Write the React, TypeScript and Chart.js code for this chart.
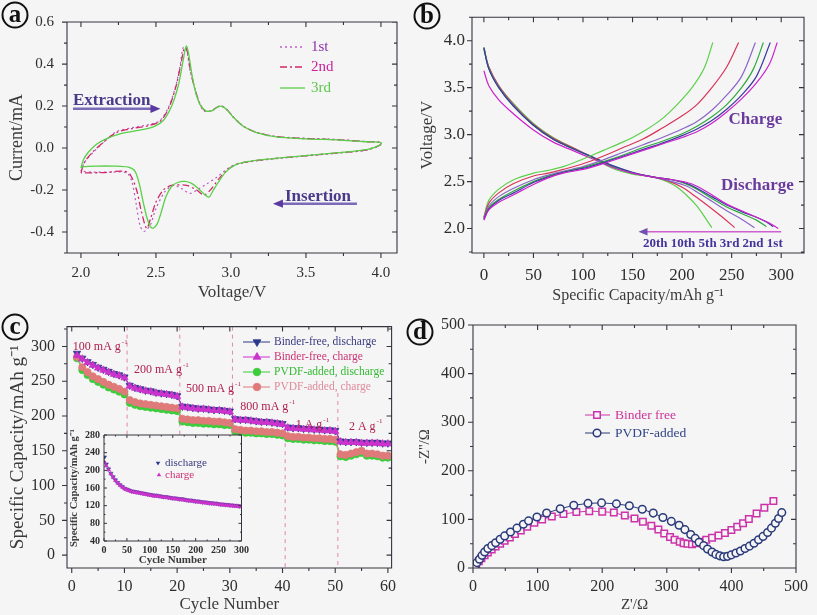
import React, { useEffect, useRef } from "react";
import { Chart, registerables } from "chart.js";

Chart.register(...registerables);

type Pt = [number, number];

const SERIF = "'Liberation Serif', 'Times New Roman', Times, serif";
const BG = "#f5f5f5";
const FRAME = "#34343f";
const TICK_TEXT = "#2e2e2e";
const TITLE_TEXT = "#3a3a3a";

/* ---------------- (a) cyclic voltammetry: [voltage V, current mA] ---------------- */
const cvCycle1: Pt[] = [
  [2.0, -0.11], [2.027, -0.065], [2.082, -0.02], [2.149, 0.026], [2.238, 0.078], [2.349, 0.098],
  [2.46, 0.113], [2.527, 0.131], [2.582, 0.192], [2.627, 0.282], [2.66, 0.388], [2.682, 0.479],
  [2.704, 0.464], [2.727, 0.373], [2.76, 0.282], [2.789, 0.214], [2.82, 0.177], [2.871, 0.178],
  [2.909, 0.196], [2.938, 0.2], [2.971, 0.185], [3.016, 0.148], [3.082, 0.105], [3.171, 0.075],
  [3.304, 0.055], [3.504, 0.046], [3.727, 0.04], [3.904, 0.031], [4.0, 0.027],
  [3.993, 0.013], [3.904, -0.01], [3.682, -0.026], [3.46, -0.04], [3.238, -0.055], [3.104, -0.068],
  [3.016, -0.082], [2.96, -0.108], [2.904, -0.14], [2.838, -0.171], [2.771, -0.201], [2.727, -0.216],
  [2.671, -0.193], [2.616, -0.178], [2.56, -0.208], [2.498, -0.291], [2.462, -0.367], [2.42, -0.397],
  [2.393, -0.367], [2.367, -0.261], [2.338, -0.156], [2.304, -0.118], [2.193, -0.115], [2.082, -0.115],
  [2.0, -0.11],
];
const cvCycle2: Pt[] = [
  [2.0, -0.118], [2.022, -0.07], [2.07, -0.025], [2.14, 0.022], [2.238, 0.074], [2.349, 0.094],
  [2.46, 0.108], [2.532, 0.13], [2.588, 0.195], [2.632, 0.29], [2.665, 0.395], [2.69, 0.478],
  [2.706, 0.47], [2.73, 0.37], [2.762, 0.275], [2.795, 0.21], [2.826, 0.177], [2.871, 0.177],
  [2.909, 0.195], [2.938, 0.2], [2.971, 0.185], [3.016, 0.147], [3.082, 0.104], [3.171, 0.074],
  [3.304, 0.054], [3.504, 0.045], [3.727, 0.039], [3.904, 0.03], [4.0, 0.026],
  [3.993, 0.014], [3.904, -0.009], [3.682, -0.025], [3.46, -0.039], [3.238, -0.054], [3.06, -0.072],
  [2.993, -0.095], [2.927, -0.14], [2.871, -0.193], [2.82, -0.224], [2.771, -0.2], [2.704, -0.178],
  [2.604, -0.178], [2.549, -0.2], [2.498, -0.261], [2.464, -0.337], [2.438, -0.382], [2.404, -0.306],
  [2.371, -0.2], [2.327, -0.125], [2.282, -0.11], [2.15, -0.117], [2.0, -0.118],
];
const cvCycle3: Pt[] = [
  [2.0, -0.095], [2.016, -0.057], [2.049, -0.02], [2.104, 0.018], [2.171, 0.045], [2.26, 0.068],
  [2.371, 0.083], [2.482, 0.101], [2.549, 0.131], [2.604, 0.199], [2.649, 0.298], [2.678, 0.404],
  [2.696, 0.472], [2.704, 0.486], [2.718, 0.449], [2.738, 0.358], [2.764, 0.267], [2.798, 0.202],
  [2.833, 0.177], [2.871, 0.177], [2.909, 0.195], [2.938, 0.199], [2.971, 0.184], [3.016, 0.147],
  [3.082, 0.104], [3.171, 0.074], [3.304, 0.053], [3.504, 0.044], [3.727, 0.038], [3.904, 0.03],
  [4.0, 0.026],
  [3.993, 0.014], [3.904, -0.008], [3.682, -0.024], [3.46, -0.038], [3.238, -0.053], [3.104, -0.065],
  [3.016, -0.085], [2.96, -0.118], [2.916, -0.163], [2.882, -0.201], [2.853, -0.234], [2.82, -0.219],
  [2.782, -0.193], [2.738, -0.168], [2.693, -0.159], [2.649, -0.163], [2.604, -0.183], [2.567, -0.231],
  [2.538, -0.299], [2.509, -0.36], [2.482, -0.382], [2.464, -0.376], [2.442, -0.337], [2.416, -0.261],
  [2.389, -0.171], [2.36, -0.11], [2.316, -0.091], [2.216, -0.086], [2.104, -0.086], [2.016, -0.089],
  [2.0, -0.095],
];
const cvLegendLabels = ["1st", "2nd", "3rd"];

/* ---------------- (b) charge / discharge: [capacity mAh/g, voltage V] ---------------- */
const charge1st: Pt[] = [[0, 2.09], [5, 2.2], [15, 2.28], [30, 2.36], [50, 2.47], [65, 2.54], [80, 2.59], [100, 2.63], [120, 2.69], [140, 2.76], [160, 2.83], [180, 2.9], [200, 2.97], [215, 3.03], [230, 3.12], [245, 3.24], [260, 3.38], [275, 3.55], [288, 3.75], [296, 3.98]];
const charge2nd: Pt[] = [[0, 2.1], [5, 2.21], [15, 2.3], [30, 2.38], [50, 2.49], [65, 2.55], [80, 2.6], [100, 2.64], [120, 2.7], [140, 2.77], [160, 2.84], [180, 2.91], [200, 2.99], [215, 3.06], [230, 3.15], [245, 3.27], [260, 3.42], [275, 3.62], [289, 3.98]];
const charge3rd: Pt[] = [[0, 2.1], [5, 2.22], [15, 2.31], [30, 2.4], [50, 2.5], [65, 2.56], [80, 2.6], [100, 2.65], [120, 2.71], [140, 2.78], [160, 2.86], [180, 2.93], [200, 3.01], [215, 3.09], [230, 3.19], [245, 3.32], [260, 3.5], [272, 3.7], [282, 3.98]];
const charge5th: Pt[] = [[0, 2.11], [5, 2.24], [15, 2.34], [30, 2.43], [50, 2.52], [65, 2.57], [80, 2.61], [100, 2.66], [120, 2.73], [140, 2.81], [160, 2.89], [180, 2.97], [200, 3.06], [215, 3.14], [230, 3.26], [245, 3.42], [260, 3.62], [274, 3.98]];
const charge10th: Pt[] = [[0, 2.12], [5, 2.27], [15, 2.38], [30, 2.48], [50, 2.56], [65, 2.59], [80, 2.63], [100, 2.69], [120, 2.77], [140, 2.86], [160, 2.95], [180, 3.07], [200, 3.2], [215, 3.32], [230, 3.5], [245, 3.72], [257, 3.98]];
const charge20th: Pt[] = [[0, 2.12], [5, 2.3], [15, 2.42], [30, 2.52], [50, 2.59], [65, 2.62], [80, 2.66], [100, 2.74], [120, 2.83], [140, 2.92], [150, 2.97], [165, 3.06], [180, 3.17], [195, 3.32], [210, 3.5], [222, 3.7], [231, 3.98]];
const discharge1st: Pt[] = [[0, 3.68], [5, 3.52], [15, 3.37], [30, 3.22], [50, 3.05], [70, 2.92], [90, 2.83], [110, 2.74], [130, 2.65], [150, 2.59], [170, 2.55], [190, 2.52], [205, 2.49], [215, 2.45], [230, 2.36], [245, 2.26], [260, 2.19], [275, 2.12], [288, 2.06], [297, 2.0]];
const discharge2nd: Pt[] = [[0, 3.92], [5, 3.7], [15, 3.5], [30, 3.3], [50, 3.1], [70, 2.95], [90, 2.85], [110, 2.76], [130, 2.67], [150, 2.6], [170, 2.55], [190, 2.52], [205, 2.48], [215, 2.43], [230, 2.34], [245, 2.25], [260, 2.18], [275, 2.12], [285, 2.07], [292, 2.02]];
const discharge3rd: Pt[] = [[0, 3.93], [5, 3.7], [15, 3.5], [30, 3.3], [50, 3.1], [70, 2.95], [90, 2.85], [110, 2.76], [130, 2.66], [150, 2.59], [170, 2.55], [190, 2.52], [205, 2.47], [215, 2.42], [230, 2.32], [245, 2.23], [260, 2.16], [275, 2.09], [285, 2.02]];
const discharge5th: Pt[] = [[0, 3.93], [5, 3.71], [15, 3.51], [30, 3.31], [50, 3.1], [70, 2.95], [90, 2.85], [110, 2.76], [130, 2.66], [150, 2.59], [170, 2.55], [190, 2.5], [205, 2.45], [215, 2.39], [230, 2.29], [245, 2.19], [260, 2.1], [273, 2.01]];
const discharge10th: Pt[] = [[0, 3.92], [5, 3.72], [15, 3.52], [30, 3.32], [50, 3.11], [70, 2.96], [90, 2.86], [110, 2.76], [130, 2.66], [150, 2.59], [170, 2.55], [185, 2.51], [200, 2.44], [215, 2.33], [230, 2.21], [242, 2.11], [253, 2.01]];
const discharge20th: Pt[] = [[0, 3.9], [5, 3.72], [15, 3.52], [30, 3.33], [50, 3.12], [70, 2.97], [90, 2.86], [110, 2.75], [130, 2.64], [150, 2.58], [170, 2.55], [185, 2.5], [195, 2.44], [205, 2.35], [215, 2.24], [223, 2.12], [230, 2.01]];
const gcdCycleText = "20th 10th 5th 3rd 2nd 1st";

/* ---------------- (c) rate capability ---------------- */
const cycleNumbers = [
  1, 2, 3, 4, 5, 6, 7, 8, 9, 10, 11, 12, 13, 14, 15, 16, 17, 18, 19, 20,
  21, 22, 23, 24, 25, 26, 27, 28, 29, 30, 31, 32, 33, 34, 35, 36, 37, 38, 39, 40,
  41, 42, 43, 44, 45, 46, 47, 48, 49, 50, 51, 52, 53, 54, 55, 56, 57, 58, 59, 60,
];
const bfDischarge = [
  290, 283, 278, 274, 270, 267, 264, 261, 259, 256,
  244, 241, 239, 237, 236, 234, 233, 232, 231, 229,
  214, 213, 212, 211, 211, 210, 209, 209, 208, 207,
  196, 195, 195, 194, 193, 192, 192, 191, 190, 189,
  184, 183, 183, 182, 182, 181, 181, 180, 180, 179,
  164, 163, 163, 163, 162, 162, 162, 162, 161, 161,
];
const bfCharge = [
  287, 282, 277, 273, 269, 266, 263, 260, 258, 255,
  243, 240, 238, 236, 235, 233, 232, 231, 230, 228,
  213, 212, 211, 210, 210, 209, 208, 208, 207, 206,
  195, 194, 194, 193, 192, 191, 191, 190, 189, 188,
  183, 182, 182, 181, 181, 180, 180, 179, 179, 178,
  163, 162, 162, 162, 161, 161, 161, 161, 160, 160,
];
const pvdfDischarge = [
  283, 266, 259, 253, 249, 245, 241, 238, 235, 231,
  219, 216, 214, 213, 212, 211, 210, 209, 208, 207,
  192, 191, 190, 190, 189, 189, 188, 188, 187, 187,
  178, 177, 176, 176, 175, 175, 174, 174, 173, 172,
  168, 167, 167, 166, 166, 165, 165, 164, 164, 163,
  142, 141, 143, 145, 147, 143, 143, 142, 140, 140,
];
const pvdfCharge = [
  285, 270, 263, 257, 253, 249, 245, 242, 239, 235,
  223, 220, 218, 217, 216, 215, 214, 213, 212, 211,
  196, 195, 194, 194, 193, 193, 192, 192, 191, 190,
  181, 180, 179, 179, 178, 178, 177, 177, 176, 175,
  171, 170, 170, 169, 169, 168, 168, 167, 167, 166,
  145, 144, 146, 148, 150, 146, 146, 145, 143, 143,
];
const rateLegendLabels = ["Binder-free, discharge", "Binder-free, charge", "PVDF-added, discharge", "PVDF-added, charge"];
const rateLabels = ["100 mA g", "200 mA g", "500 mA g", "800 mA g", "1 A g", "2 A g"];
const rateBoundaries = [10.5, 20.5, 30.5, 40.5, 50.5];

/* inset: long cycling */
const insetCycles = [
  1, 5, 10, 15, 20, 25, 30, 35, 40, 45, 50, 55, 60, 65, 70, 75, 80, 85, 90, 95, 100,
  105, 110, 115, 120, 125, 130, 135, 140, 145, 150, 155, 160, 165, 170, 175, 180, 185, 190, 195, 200,
  205, 210, 215, 220, 225, 230, 235, 240, 245, 250, 255, 260, 265, 270, 275, 280, 285, 290, 295, 300,
];
const insetDischarge = [
  230, 214, 203, 193, 185, 178, 172, 167, 163, 159, 157, 155, 153, 152, 151, 150, 149, 148, 147, 146, 145,
  144, 143, 143, 142, 141, 140, 140, 139, 138, 137, 137, 136, 135, 135, 134, 133, 132, 132, 131, 130,
  130, 129, 128, 128, 127, 126, 126, 125, 125, 124, 123, 123, 122, 122, 121, 121, 120, 120, 119, 119,
];
const insetCharge = [
  218, 210, 201, 192, 184, 177, 171, 166, 162, 158, 156, 154, 152, 151, 150, 149, 148, 147, 146, 145, 144,
  143, 142, 142, 141, 140, 139, 139, 138, 137, 136, 136, 135, 134, 134, 133, 132, 131, 131, 130, 129,
  129, 128, 127, 127, 126, 125, 125, 124, 124, 123, 122, 122, 121, 121, 120, 120, 119, 119, 118, 118,
];
const insetLegendLabels = ["discharge", "charge"];

/* ---------------- (d) Nyquist: [Z' ohm, -Z'' ohm] ---------------- */
const eisBinderFree: Pt[] = [
  [2, 3], [5, 8], [9, 14], [13, 20], [18, 26], [23, 32], [29, 38], [35, 44], [42, 50], [49, 56],
  [57, 63], [65, 70], [74, 77], [84, 85], [95, 93], [107, 100], [122, 106], [140, 111], [160, 115],
  [180, 117], [200, 116], [218, 114], [235, 108], [250, 102], [263, 95], [276, 87], [287, 79],
  [296, 71], [305, 64], [312, 58], [320, 54], [326, 51], [332, 50], [339, 49], [345, 51], [352, 54],
  [361, 58], [370, 62], [380, 67], [390, 72], [400, 78], [409, 85], [418, 92], [427, 101], [439, 112],
  [451, 124], [465, 138],
];
const eisPvdf: Pt[] = [
  [3, 4], [6, 11], [10, 18], [14, 26], [18, 33], [23, 40], [29, 46], [35, 52], [42, 59], [49, 66],
  [58, 74], [68, 82], [78, 90], [86, 97], [99, 105], [114, 113], [135, 122], [156, 129], [178, 133],
  [199, 134], [222, 132], [242, 128], [262, 121], [279, 113], [294, 104], [307, 96], [319, 88],
  [328, 79], [337, 69], [344, 61], [350, 53], [357, 46], [363, 39], [370, 33], [376, 28], [382, 25],
  [388, 23], [394, 24], [400, 27], [407, 31], [414, 35], [421, 40], [428, 45], [435, 51], [442, 58],
  [449, 65], [456, 73], [462, 82], [468, 92], [473, 102], [478, 114],
];
const eisLegendLabels = ["Binder free", "PVDF-added"];

/* ---------------- helpers ---------------- */
const toXY = (pairs: Pt[]) => pairs.map(([x, y]) => ({ x, y }));
const zipXY = (xs: number[], ys: number[]) => xs.map((x, i) => ({ x, y: ys[i] }));

const framePlugin = {
  id: "frame",
  afterDatasetsDraw(chart: any, _args: any, opts: any) {
    if (!opts || !opts.show) return;
    const { ctx, chartArea } = chart;
    const { left, right, top, bottom } = chartArea;
    ctx.save();
    ctx.strokeStyle = opts.color || FRAME;
    ctx.lineWidth = opts.lineWidth || 1.1;
    ctx.beginPath();
    const mk = (scale: any, isX: boolean) => {
      const vals: number[] = scale.ticks.map((t: any) => t.value);
      const minors: number[] = [];
      for (let i = 0; i < vals.length - 1; i++) minors.push((vals[i] + vals[i + 1]) / 2);
      if (vals.length > 1) {
        const st = vals[1] - vals[0];
        minors.push(vals[0] - st / 2, vals[vals.length - 1] + st / 2);
      }
      const draw = (v: number, len: number) => {
        const p = scale.getPixelForValue(v);
        if (isX) {
          if (p < left - 0.5 || p > right + 0.5) return;
          ctx.moveTo(p, bottom); ctx.lineTo(p, bottom + (opts.bottom === "out" ? len : -len));
          ctx.moveTo(p, top); ctx.lineTo(p, top + (opts.top === "out" ? -len : len));
        } else {
          if (p < top - 0.5 || p > bottom + 0.5) return;
          ctx.moveTo(left, p); ctx.lineTo(left + (opts.left === "out" ? -len : len), p);
          ctx.moveTo(right, p); ctx.lineTo(right + (opts.right === "out" ? len : -len), p);
        }
      };
      vals.forEach((v) => draw(v, opts.major));
      minors.forEach((v) => draw(v, opts.minor));
    };
    mk(chart.scales.x, true);
    mk(chart.scales.y, false);
    ctx.rect(left, top, right - left, bottom - top);
    ctx.stroke();
    ctx.restore();
  },
};
Chart.register(framePlugin);

function linAxis(o: any) {
  return {
    type: "linear",
    min: o.min,
    max: o.max,
    afterFit: (s: any) => {
      if (o.isX) s.height = o.fixed;
      else s.width = o.fixed;
    },
    grid: { display: false, drawTicks: false },
    border: { display: false },
    ticks: {
      stepSize: o.step,
      includeBounds: false,
      autoSkip: false,
      maxRotation: 0,
      padding: o.pad,
      color: TICK_TEXT,
      font: { family: SERIF, size: o.size, weight: o.bold ? "bold" : "normal" },
      callback: o.fmt || ((v: number) => String(Math.round(v))),
    },
    title: {
      display: true,
      text: o.title,
      color: o.titleColor || TITLE_TEXT,
      font: { family: SERIF, size: o.titleSize, weight: o.bold ? "bold" : "normal" },
      padding: o.titlePad,
    },
  };
}

const fmt1 = (v: number) => (Math.abs(v) < 1e-9 ? 0 : v).toFixed(1);

function baseOptions(padding: any, x: any, y: any, frame: any, extra: any = {}) {
  return {
    responsive: false,
    animation: false,
    devicePixelRatio: 1,
    events: [],
    layout: { padding },
    scales: { x, y },
    plugins: {
      legend: { display: false },
      tooltip: { enabled: false },
      title: { display: false },
      frame: { show: true, ...frame },
      ...extra,
    },
  };
}

function drawMarker(ctx: any, style: string, x: number, y: number, r: number, fill: string | null, stroke: string | null, lw = 1) {
  ctx.save();
  ctx.beginPath();
  if (style === "circle") ctx.arc(x, y, r, 0, Math.PI * 2);
  else if (style === "rect") {
    const s = r * Math.SQRT1_2;
    ctx.rect(x - s, y - s, 2 * s, 2 * s);
  } else if (style === "triUp" || style === "triDown") {
    const d = style === "triUp" ? 1 : -1;
    ctx.moveTo(x, y - d * r);
    ctx.lineTo(x + r * 0.866, y + d * r * 0.5);
    ctx.lineTo(x - r * 0.866, y + d * r * 0.5);
    ctx.closePath();
  }
  if (fill) { ctx.fillStyle = fill; ctx.fill(); }
  if (stroke) { ctx.strokeStyle = stroke; ctx.lineWidth = lw; ctx.stroke(); }
  ctx.restore();
}

function supText(ctx: any, x: number, y: number, main: string, sup: string, size: number, color: string, weight = "normal", align = "left") {
  ctx.save();
  const f1 = `${weight} ${size}px ${SERIF}`;
  const f2 = `${weight} ${Math.round(size * 0.62)}px ${SERIF}`;
  ctx.font = f1;
  const w1 = ctx.measureText(main).width;
  ctx.font = f2;
  const w2 = ctx.measureText(sup).width;
  let sx = x;
  if (align === "center") sx = x - (w1 + w2 + 1) / 2;
  ctx.fillStyle = color;
  ctx.textAlign = "left";
  ctx.textBaseline = "middle";
  ctx.font = f1;
  ctx.fillText(main, sx, y);
  ctx.font = f2;
  ctx.fillText(sup, sx + w1 + 1, y - size * 0.42);
  ctx.restore();
}

function text(ctx: any, s: string, x: number, y: number, size: number, color: string, weight = "normal", align = "left") {
  ctx.save();
  ctx.font = `${weight} ${size}px ${SERIF}`;
  ctx.fillStyle = color;
  ctx.textAlign = align;
  ctx.textBaseline = "middle";
  ctx.fillText(s, x, y);
  ctx.restore();
}

function arrow(ctx: any, x1: number, y: number, x2: number, lineColor: string, headColor: string, lw: number, head: number) {
  const dir = Math.sign(x2 - x1);
  ctx.save();
  ctx.strokeStyle = lineColor;
  ctx.lineWidth = lw;
  ctx.beginPath();
  ctx.moveTo(x1, y);
  ctx.lineTo(x2 - dir * head * 0.7, y);
  ctx.stroke();
  ctx.fillStyle = headColor;
  ctx.beginPath();
  ctx.moveTo(x2, y);
  ctx.lineTo(x2 - dir * head, y - head * 0.42);
  ctx.lineTo(x2 - dir * head, y + head * 0.42);
  ctx.closePath();
  ctx.fill();
  ctx.restore();
}

function circledLetter(ctx: any, x: number, y: number, letter: string) {
  ctx.save();
  ctx.beginPath();
  ctx.arc(x, y, 12.5, 0, Math.PI * 2);
  ctx.lineWidth = 2;
  ctx.strokeStyle = "#111";
  ctx.stroke();
  ctx.font = `bold 25px ${SERIF}`;
  ctx.fillStyle = "#111";
  ctx.textAlign = "center";
  ctx.textBaseline = "middle";
  ctx.fillText(letter, x, y + 1);
  ctx.restore();
}

const line = (data: any[], color: string, extra: any = {}) => ({
  data,
  showLine: true,
  borderColor: color,
  backgroundColor: color,
  borderWidth: 1.3,
  pointRadius: 0,
  tension: 0.3,
  ...extra,
});

/* ---------------- panel configs ---------------- */
const CV_COLORS = ["#c060c8", "#d02868", "#58d048"];
const CV_TEXT = ["#8a34a8", "#c8229a", "#5cc84a"];
const CV_DASH = [[2, 3], [7, 3, 2, 3], []];

function makeA() {
  const cycles = [cvCycle1, cvCycle2, cvCycle3];
  return {
    type: "scatter",
    data: {
      datasets: cycles.map((c, i) =>
        line(toXY(c), CV_COLORS[i], { borderDash: CV_DASH[i], order: 3 - i })
      ),
    },
    options: baseOptions(
      { left: 0, top: 10, right: 8, bottom: 0 },
      linAxis({ isX: true, min: 1.907, max: 4.107, step: 0.5, fixed: 52, pad: 11, size: 15, fmt: fmt1, title: "Voltage/V", titleSize: 17, titlePad: { top: 0, bottom: 2 } }),
      linAxis({ isX: false, min: -0.5, max: 0.6005, step: 0.2, fixed: 67, pad: 13, size: 15, fmt: fmt1, title: "Current/mA", titleSize: 18, titlePad: { top: 6, bottom: 0 } }),
      { left: "out", bottom: "out", top: "in", right: "in", major: 5, minor: 3 }
    ),
    plugins: [
      {
        id: "annA",
        afterDraw(chart: any) {
          const { ctx } = chart;
          const X = chart.scales.x, Y = chart.scales.y;
          circledLetter(ctx, 15, 15, "a");
          const rows = [47, 67, 88];
          rows.forEach((ry, i) => {
            ctx.save();
            ctx.strokeStyle = CV_COLORS[i];
            ctx.lineWidth = 1.3;
            ctx.setLineDash(CV_DASH[i]);
            ctx.beginPath();
            ctx.moveTo(280, ry);
            ctx.lineTo(305, ry);
            ctx.stroke();
            ctx.restore();
            text(ctx, cvLegendLabels[i], 311, ry, 15, CV_TEXT[i]);
          });
          text(ctx, "Extraction", X.getPixelForValue(1.947), Y.getPixelForValue(0.228), 17, "#4a3a8c", "bold");
          arrow(ctx, X.getPixelForValue(1.947), Y.getPixelForValue(0.187), X.getPixelForValue(2.53), "#7a6ab8", "#5a3aa0", 2.5, 10);
          text(ctx, "Insertion", X.getPixelForValue(3.36), Y.getPixelForValue(-0.229), 17, "#4a3a8c", "bold");
          arrow(ctx, X.getPixelForValue(3.84), Y.getPixelForValue(-0.265), X.getPixelForValue(3.28), "#7a6ab8", "#5a3aa0", 2.5, 10);
        },
      },
    ],
  };
}

const GCD_COLORS = ["#cc22cc", "#3a3aa0", "#2eaa3a", "#8a66c8", "#d8345a", "#5cd04a"];

function makeB() {
  const charges = [charge1st, charge2nd, charge3rd, charge5th, charge10th, charge20th];
  const discharges = [discharge1st, discharge2nd, discharge3rd, discharge5th, discharge10th, discharge20th];
  const ds: any[] = [];
  charges.forEach((c, i) => ds.push(line(toXY(c), GCD_COLORS[i], { borderWidth: 1.2, tension: 0.35 })));
  discharges.forEach((c, i) => ds.push(line(toXY(c), GCD_COLORS[i], { borderWidth: 1.2, tension: 0.35 })));
  return {
    type: "scatter",
    data: { datasets: ds },
    options: baseOptions(
      { left: 0, top: 10, right: 13, bottom: 0 },
      linAxis({ isX: true, min: -12, max: 323, step: 50, fixed: 52, pad: 12, size: 17, title: "Specific Capacity/mAh g\u207B\u00B9", titleSize: 16, titlePad: { top: 0, bottom: 0 } }),
      linAxis({ isX: false, min: 1.74, max: 4.25, step: 0.5, fixed: 67, pad: 7, size: 17, fmt: fmt1, title: "Voltage/V", titleSize: 17, titlePad: { top: 12, bottom: 0 } }),
      { left: "out", bottom: "out", top: "in", right: "in", major: 5, minor: 3 }
    ),
    plugins: [
      {
        id: "annB",
        afterDraw(chart: any) {
          const { ctx } = chart;
          const X = chart.scales.x, Y = chart.scales.y;
          circledLetter(ctx, 22, 16, "b");
          text(ctx, "Charge", X.getPixelForValue(274), Y.getPixelForValue(3.165), 17, "#6a3a9c", "bold", "center");
          text(ctx, "Discharge", X.getPixelForValue(276), Y.getPixelForValue(2.46), 17, "#6a3a9c", "bold", "center");
          arrow(ctx, X.getPixelForValue(300), Y.getPixelForValue(1.966), X.getPixelForValue(156), "#d060d0", "#7050b0", 1.5, 9);
          text(ctx, gcdCycleText, X.getPixelForValue(231), Y.getPixelForValue(1.835), 13, "#44339a", "bold", "center");
        },
      },
    ],
  };
}

const RATE_COLORS = ["#2a3a8a", "#cc33cc", "#3ccc3c", "#e07a7a"];
const RATE_TEXT = ["#3a3a80", "#cc3377", "#33bb33", "#e08a9a"];
const RATE_MARK = ["triDown", "triUp", "circle", "circle"];
const RATE_LABEL_POS: Pt[] = [[0.2, 299], [11.8, 266], [21.7, 239], [32.0, 213], [42.5, 187], [52.6, 185]];
const RATE_LINE_RANGE: Pt[] = [[328.5, 172], [328.5, 172], [328.5, 172], [184, -18.5], [233, -18.5]];

function makeC() {
  const series = [bfCharge, bfDischarge, pvdfCharge, pvdfDischarge];
  const idx = [1, 0, 3, 2];
  const ds = series.map((s, k) => {
    const i = idx[k];
    return {
      data: zipXY(cycleNumbers, s),
      showLine: true,
      borderColor: RATE_COLORS[i],
      backgroundColor: RATE_COLORS[i],
      borderWidth: 1,
      pointRadius: i < 2 ? 4.2 : 3.6,
      pointStyle: i < 2 ? "triangle" : "circle",
      pointRotation: i === 0 ? 180 : 0,
      pointBorderWidth: 0.8,
      pointBorderColor: RATE_COLORS[i],
      pointBackgroundColor: RATE_COLORS[i],
      order: k,
    };
  });
  return {
    type: "scatter",
    data: { datasets: ds },
    options: baseOptions(
      { left: 0, top: 21, right: 8, bottom: 0 },
      linAxis({ isX: true, min: -0.9, max: 60.7, step: 10, fixed: 47, pad: 9, size: 16, title: "Cycle Number", titleSize: 17, titlePad: { top: 0, bottom: 0 } }),
      linAxis({ isX: false, min: -18.5, max: 328.5, step: 50, fixed: 67, pad: 12, size: 16, title: "Specific Capacity/mAh g\u207B\u00B9", titleSize: 19, titlePad: { top: 7, bottom: 0 } }),
      { left: "out", bottom: "out", top: "in", right: "in", major: 5, minor: 3 }
    ),
    plugins: [
      {
        id: "annCbefore",
        beforeDatasetsDraw(chart: any) {
          const { ctx } = chart;
          const X = chart.scales.x, Y = chart.scales.y;
          ctx.save();
          ctx.strokeStyle = "#e088b0";
          ctx.lineWidth = 1;
          ctx.setLineDash([4, 4]);
          rateBoundaries.forEach((c, i) => {
            const px = X.getPixelForValue(c);
            ctx.beginPath();
            ctx.moveTo(px, Y.getPixelForValue(RATE_LINE_RANGE[i][0]));
            ctx.lineTo(px, Y.getPixelForValue(RATE_LINE_RANGE[i][1]));
            ctx.stroke();
          });
          ctx.restore();
        },
        afterDraw(chart: any) {
          const { ctx } = chart;
          const X = chart.scales.x, Y = chart.scales.y;
          circledLetter(ctx, 15, 22, "c");
          rateLabels.forEach((s, i) => {
            supText(ctx, X.getPixelForValue(RATE_LABEL_POS[i][0]), Y.getPixelForValue(RATE_LABEL_POS[i][1]), s, "-1", 12, "#b02050");
          });
          const rows = [37, 52, 67, 82];
          rows.forEach((ry, i) => {
            ctx.save();
            ctx.strokeStyle = RATE_COLORS[i];
            ctx.lineWidth = 1;
            ctx.beginPath();
            ctx.moveTo(243, ry);
            ctx.lineTo(270, ry);
            ctx.stroke();
            ctx.restore();
            drawMarker(ctx, RATE_MARK[i], 257, ry, i < 2 ? 4.5 : 3.8, RATE_COLORS[i], RATE_COLORS[i], 0.8);
            text(ctx, rateLegendLabels[i], 274, ry, 11.5, RATE_TEXT[i]);
          });
        },
      },
    ],
  };
}

function makeInset() {
  return {
    type: "scatter",
    data: {
      datasets: [
        { data: zipXY(insetCycles, insetCharge), pointStyle: "triangle", pointRadius: 2.4, pointBackgroundColor: "#cc33cc", pointBorderColor: "#cc33cc", pointBorderWidth: 0.5, showLine: false, order: 0 },
        { data: zipXY(insetCycles, insetDischarge), pointStyle: "triangle", pointRotation: 180, pointRadius: 2.4, pointBackgroundColor: "#2a3a8a", pointBorderColor: "#2a3a8a", pointBorderWidth: 0.5, showLine: false, order: 1 },
      ],
    },
    options: baseOptions(
      { left: 0, top: 10, right: 5, bottom: 0 },
      linAxis({ isX: true, min: 0, max: 300, step: 50, fixed: 26, pad: 3, size: 10, bold: true, title: "Cycle Number", titleSize: 11, titlePad: { top: 0, bottom: 0 } }),
      linAxis({ isX: false, min: 40, max: 280, step: 40, fixed: 38, pad: 4, size: 10, bold: true, title: "Specific Capacity/mAh g\u207B\u00B9", titleSize: 10.5, titlePad: { top: 2, bottom: 0 } }),
      { left: "in", bottom: "in", top: "in", right: "in", major: 3, minor: 1.5, lineWidth: 1 }
    ),
    plugins: [
      {
        id: "insetBg",
        beforeDatasetsDraw(chart: any) {
          const { ctx, chartArea: a } = chart;
          ctx.save();
          ctx.fillStyle = BG;
          ctx.fillRect(a.left, a.top, a.right - a.left, a.bottom - a.top);
          ctx.restore();
        },
        afterDraw(chart: any) {
          const { ctx } = chart;
          drawMarker(ctx, "triDown", 92, 38, 2.6, "#2a3a8a", null);
          text(ctx, insetLegendLabels[0], 99, 38, 11, "#3a3a80");
          drawMarker(ctx, "triUp", 93, 50, 2.6, "#cc33cc", null);
          text(ctx, insetLegendLabels[1], 99, 50, 11, "#cc3377");
        },
      },
    ],
  };
}

const EIS_COLORS = ["#cc33aa", "#2a3a7a"];
const EIS_TEXT = ["#cc3399", "#334488"];

function makeD() {
  return {
    type: "scatter",
    data: {
      datasets: [
        { data: toXY(eisPvdf), showLine: true, borderColor: EIS_COLORS[1], borderWidth: 1, pointStyle: "circle", pointRadius: 3.8, pointBorderWidth: 1.5, pointBorderColor: EIS_COLORS[1], pointBackgroundColor: BG, order: 0 },
        { data: toXY(eisBinderFree), showLine: true, borderColor: EIS_COLORS[0], borderWidth: 1, pointStyle: "rect", pointRadius: 4.6, pointBorderWidth: 1.5, pointBorderColor: EIS_COLORS[0], pointBackgroundColor: BG, order: 1 },
      ],
    },
    options: baseOptions(
      { left: 0, top: 20, right: 13, bottom: 0 },
      linAxis({ isX: true, min: 0, max: 500, step: 100, fixed: 47, pad: 9, size: 16, title: "Z'/\u03A9", titleSize: 15, titlePad: { top: 0, bottom: 1 } }),
      linAxis({ isX: false, min: 0, max: 500, step: 100, fixed: 68, pad: 8, size: 16, title: "-Z''/\u03A9", titleSize: 15, titlePad: { top: 11, bottom: 0 } }),
      { left: "out", bottom: "out", top: "in", right: "in", major: 5, minor: 3 }
    ),
    plugins: [
      {
        id: "annD",
        afterDraw(chart: any) {
          const { ctx } = chart;
          circledLetter(ctx, 15, 27, "d");
          const rows = [110, 128];
          const marks = ["rect", "circle"];
          rows.forEach((ry, i) => {
            ctx.save();
            ctx.strokeStyle = EIS_COLORS[i];
            ctx.lineWidth = 1;
            ctx.beginPath();
            ctx.moveTo(180, ry);
            ctx.lineTo(205, ry);
            ctx.stroke();
            ctx.restore();
            drawMarker(ctx, marks[i], 192, ry, i === 0 ? 4.6 : 3.8, BG, EIS_COLORS[i], 1.5);
            text(ctx, eisLegendLabels[i], 210, ry, 13.5, EIS_TEXT[i]);
          });
        },
      },
    ],
  };
}

function ChartCanvas({ left, top, w, h, make }: any) {
  const ref = useRef<HTMLCanvasElement>(null);
  useEffect(() => {
    const chart = new Chart(ref.current as HTMLCanvasElement, make());
    return () => chart.destroy();
  }, []);
  return (
    <canvas
      ref={ref}
      width={w}
      height={h}
      style={{ position: "absolute", left, top, width: w, height: h }}
    />
  );
}

export default function App() {
  return (
    <div style={{ position: "fixed", left: 0, top: 0, width: 817, height: 615, background: BG, overflow: "hidden" }}>
      <ChartCanvas left={0} top={0} w={405} h={305} make={makeA} />
      <ChartCanvas left={405} top={0} w={412} h={305} make={makeB} />
      <ChartCanvas left={0} top={305} w={405} h={310} make={makeC} />
      <ChartCanvas left={405} top={305} w={412} h={310} make={makeD} />
      <ChartCanvas left={66} top={425} w={186} h={142} make={makeInset} />
    </div>
  );
}
